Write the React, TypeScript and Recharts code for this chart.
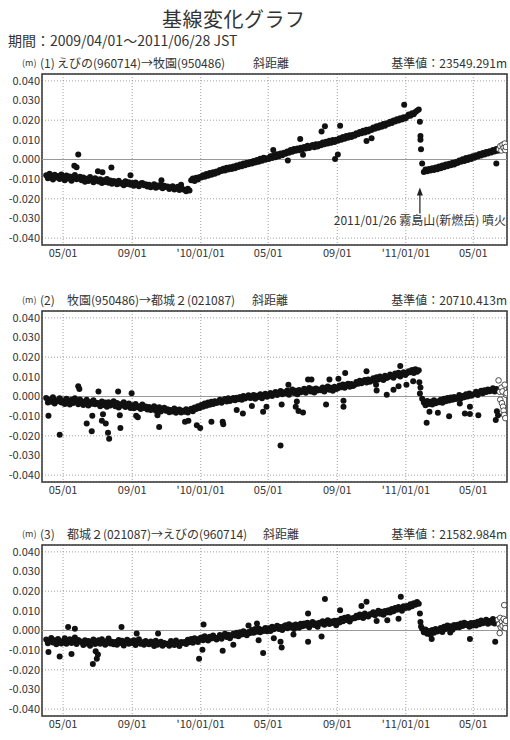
import {
  ScatterChart,
  Scatter,
  XAxis,
  YAxis,
  CartesianGrid,
  ReferenceLine,
  ReferenceArea,
  ReferenceDot,
} from "recharts"

// day 0 = 2009/04/01, one value every 3 days, in mm
const STEP = 3

const xTicks = [30, 153, 275, 395, 518, 640, 760]
const xLabels = ["05/01", "09/01", "'10/01/01", "05/01", "09/01", "'11/01/01", "05/01"]
const yTicks = [-40, -30, -20, -10, 0, 10, 20, 30, 40]

// (1) えびの -> 牧園
const line1 = [
  -8.0, -9.6, -7.3, -8.9, -10.2, -7.8, -9.1, -8.4, -9.9, -7.6, // 2009-04
  -9.0, -10.5, -8.1, -9.7, -8.6, -10.8, -9.3, -7.9, -10.1, -9.5, -8.8,
  -10.6, -9.2, -11.3, -9.8, -10.9, -8.9, -10.4, -11.6, -9.5, -10.2,
  -11.2, -10.1, -12.0, -10.6, -11.5, -9.9, -11.8, -10.7, -12.3, -10.9,
  -11.3, -12.6, -10.8, -12.2, -11.9, -13.1, -11.1, -12.5, -11.6, -12.9,
  -12.0, -13.3, -11.7, -12.8, -13.6, -12.2, -11.9, -13.1, -12.6, -13.8,
  -12.9, -14.1, -13.5, -12.6, -14.4, -13.2, -13.9, -12.8, -14.6, -13.4, -14.0,
  -13.8, -15.0, -14.4, -13.6, -15.3, -14.7, -13.9, -15.5, -14.2, -15.1,
  -15.4, -16.2, -14.9, -15.8, -10.6, -9.7, -11.0, -9.3, -10.2, -8.9,
  -9.1, -8.0, -8.8, -7.4, -8.3, -6.9, -7.7, -6.5, -7.3, -6.1, // 2010-01
  -6.6, -5.3, -5.9, -4.7, -5.6, -4.2, -5.1, -3.9, -4.8, -3.6,
  -4.4, -3.1, -3.8, -2.6, -3.4, -2.0, -2.9, -1.6, -2.4, -1.3,
  -2.0, -0.7, -1.5, -0.2, -1.1, 0.4, -0.6, 0.9, -0.1, 0.6,
  0.3, 1.6, 0.8, 2.1, 1.2, 2.7, 1.6, 3.0, 2.2, 3.4,
  2.9, 4.1, 3.4, 4.8, 3.9, 5.3, 4.4, 5.6, 4.7, 6.0,
  5.2, 6.3, 5.6, 7.0, 5.9, 6.8, 7.4, 6.2, 7.7, 6.6, 7.9,
  7.3, 8.6, 7.8, 9.0, 8.2, 9.5, 8.5, 9.9, 8.9, 10.1,
  9.6, 10.8, 10.1, 11.4, 10.6, 11.9, 11.1, 12.3, 11.5, 12.6,
  12.1, 13.4, 12.8, 14.0, 13.3, 14.6, 13.8, 15.1, 14.2, 15.4,
  15.0, 16.3, 15.6, 16.9, 16.2, 17.4, 16.7, 18.0, 17.2, 18.4,
  18.0, 19.2, 18.6, 19.9, 19.3, 20.5, 19.8, 21.0, 20.3, 21.5, 20.9,
  21.8, 22.9, 22.3, 23.5, 23.0, 24.2, 24.8, 25.4, 12.0, -2.0, // 2011-01
  -6.3, -5.1, -6.0, -4.8, -5.6, -4.4, -5.3, -4.1, -4.9,
  -3.6, -4.4, -3.0, -3.9, -2.6, -3.4, -2.1, -2.9, -1.7, -2.5, -1.3,
  -1.8, -0.5, -1.2, 0.1, -0.7, 0.7, -0.2, 1.2, 0.3, 1.6,
  0.9, 2.1, 1.5, 2.8, 2.0, 3.3, 2.5, 3.8, 3.0, 4.2,
  3.6, 4.8, 4.1, 5.3, 4.5,
]
const extra1 = [
  [50, -3.2], [54, -4.0], [57, 2.5], [92, -6.0], [100, -6.5], [116, -4.1],
  [150, -8.0], [205, -10.5], [240, -12.8], [404, 4.8], [430, -0.5],
  [452, 10.4], [457, 2.4], [490, 14.3], [496, 16.9], [514, 0.3], [519, 2.6],
  [523, 17.2], [570, 9.4], [579, 10.8], [637, 27.8],
  [665, 19.2], [666, 10.1], [667, 5.2], [801, -2.0],
]
const open1 = [
  [806, 5.2], [808, 6.8], [810, 4.6], [812, 7.5], [814, 5.9], [816, 8.1], [817, 4.8], [818, 6.4],
]

// (2) 牧園 -> 都城２
const line2 = [
  -0.8, -3.1, -1.6, -2.7, -0.4, -3.5, -1.9, -2.4, -0.9, -3.0, // 2009-04
  -2.0, -3.8, -1.2, -2.9, -4.1, -1.7, -3.3, -0.9, -2.6, -3.9, -1.5,
  -2.4, -4.3, -3.0, -1.6, -4.6, -2.8, -3.7, -1.9, -4.0, -3.2,
  -3.5, -5.0, -2.6, -4.3, -3.1, -5.2, -2.9, -4.6, -3.8, -2.4,
  -4.9, -3.3, -5.6, -3.9, -4.6, -2.9, -5.3, -4.1, -3.6, -5.8,
  -4.4, -6.0, -3.8, -5.5, -4.9, -6.4, -4.1, -5.8, -5.1, -6.6,
  -5.3, -6.9, -5.8, -4.9, -7.2, -6.1, -5.5, -7.6, -6.4, -5.7, -7.3,
  -6.5, -8.0, -6.9, -7.6, -6.1, -8.3, -7.1, -6.6, -8.1, -7.3,
  -7.8, -6.5, -8.2, -7.0, -6.2, -7.5, -5.6, -6.4, -4.9, -5.8,
  -4.3, -5.2, -3.6, -4.7, -3.1, -4.2, -2.7, -3.8, -2.4, -3.3, // 2010-01
  -2.9, -1.7, -3.2, -2.1, -1.3, -2.6, -0.9, -2.3, -1.5, -0.7,
  -1.9, -0.6, -1.4, -0.2, -1.7, 0.3, -1.0, -0.3, 0.6, -0.8,
  -0.5, 0.8, -1.2, 0.4, -0.3, 1.2, -0.9, 0.6, 1.4, -0.1,
  0.5, 1.8, 0.2, 1.4, 2.3, 0.7, 1.9, 2.8, 1.1, 2.2,
  1.6, 3.0, 0.9, 2.4, 3.5, 1.8, 2.9, 1.2, 3.3, 2.1,
  2.7, 3.9, 1.9, 3.4, 4.3, 2.5, 3.7, 2.0, 4.1, 3.0, 3.6,
  3.2, 4.6, 2.6, 4.0, 5.1, 3.4, 4.4, 2.9, 4.9, 3.8,
  4.2, 5.6, 4.7, 6.1, 4.4, 5.8, 6.5, 5.0, 6.3, 5.4,
  6.0, 7.4, 6.5, 8.0, 6.8, 7.7, 8.4, 7.1, 8.6, 7.5,
  8.1, 9.3, 7.9, 9.8, 8.6, 10.2, 9.0, 8.4, 10.5, 9.4,
  9.9, 11.2, 10.4, 9.5, 11.7, 10.8, 12.1, 10.2, 11.5, 12.4, 11.0,
  11.8, 12.9, 12.3, 13.5, 11.9, 13.9, 12.6, 13.3, 4.6, -1.2, // 2011-01
  -3.1, -4.4, -2.3, -3.8, -2.7, -4.1, -1.9, -3.4, -2.5,
  -2.9, -1.6, -3.2, -1.1, -2.4, -0.8, -2.0, -0.5, -1.7, -0.2, -1.3,
  -0.6, 0.7, -1.0, 0.3, -0.4, 1.1, 0.0, 1.5, 0.4, 0.9,
  1.3, 2.4, 0.8, 2.0, 2.9, 1.6, 3.2, 2.3, 3.6, 2.7,
  3.1, 4.2, 2.6, 3.8, 3.4,
]
const extra2 = [
  [4, -9.8], [24, -19.4], [57, 5.2], [59, 3.8], [72, -13.7], [81, -17.7], [82, -9.8],
  [93, 2.6], [99, -12.4], [101, -9.0], [106, -13.7], [110, -18.4], [112, -21.5],
  [128, 2.6], [131, -9.5], [132, -16.0], [152, 1.7], [160, -9.8], [163, -10.6],
  [198, -9.5], [201, -15.5], [247, -12.9], [253, -12.4], [268, -14.6], [274, -16.0],
  [294, -12.9], [314, -12.9], [315, -14.1], [339, -6.9], [350, -8.6],
  [366, -4.8], [386, -7.7], [392, -5.2], [417, -24.9], [419, -4.1], [431, 6.0],
  [444, -5.2], [446, -2.6], [449, -7.4], [457, -8.1], [466, 8.6], [472, 8.6],
  [498, -4.1], [504, 8.6], [520, 9.0], [529, -2.2], [529, -5.2], [532, 12.0],
  [570, 12.9], [587, 6.0], [588, 3.1], [606, 0.9], [618, 3.4], [627, 5.2],
  [630, 15.5], [641, 6.0], [653, 7.7],
  [664, 7.2], [665, 1.5],
  [677, -13.4], [682, -7.7], [697, -8.3], [717, -10.0], [736, -3.6], [745, -8.6],
  [754, -8.9], [754, -5.2], [769, -9.5], [800, -12.0], [802, -7.5], [804, -9.5],
]
const open2 = [
  [805, 8.2], [807, 2.4], [808, -1.6], [810, 4.5], [811, -3.4], [812, 2.6], [813, -5.2],
  [814, -7.2], [815, -9.4], [816, 6.0], [817, -11.0], [818, 0.9], [819, 1.7],
]

// (3) 都城２ -> えびの
const line3 = [
  -4.6, -6.5, -5.2, -3.8, -6.1, -5.0, -7.0, -4.3, -5.8, -6.6, // 2009-04
  -5.4, -3.9, -6.7, -5.1, -4.4, -6.3, -5.7, -3.6, -6.9, -4.8, -5.5,
  -6.0, -7.4, -4.9, -6.6, -5.3, -7.8, -5.6, -4.6, -6.9, -6.2,
  -5.0, -6.8, -4.5, -6.1, -7.3, -5.4, -4.1, -6.6, -5.7, -7.0,
  -5.9, -7.3, -4.8, -6.4, -5.2, -7.6, -6.1, -4.7, -6.8, -5.5,
  -6.3, -5.0, -7.4, -5.8, -4.5, -6.7, -6.0, -7.2, -5.3, -6.5,
  -7.0, -5.6, -6.6, -7.9, -5.2, -7.3, -6.2, -5.7, -7.7, -6.4, -6.9,
  -6.8, -7.7, -5.4, -6.5, -7.4, -5.1, -6.9, -7.9, -5.8, -6.3,
  -5.9, -6.9, -4.7, -6.0, -4.3, -6.2, -3.9, -5.2, -5.8, -4.1,
  -3.6, -4.9, -2.9, -4.4, -5.1, -3.2, -4.1, -2.6, -3.8, -4.6, // 2010-01
  -3.5, -2.3, -4.2, -2.8, -1.7, -3.3, -2.1, -3.9, -2.5, -1.6,
  -2.6, -1.2, -2.9, -0.9, -2.0, -0.4, -1.6, -2.4, -0.7, -1.3,
  0.2, -1.1, 0.7, -0.6, 1.0, -0.9, 0.4, -0.2, 1.3, -0.4,
  1.2, -0.3, 1.9, 0.6, 1.5, 2.4, 0.8, 1.8, 0.2, 2.1,
  2.7, 1.1, 3.2, 1.7, 2.5, 0.8, 3.0, 2.0, 1.4, 3.4,
  2.2, 3.6, 2.6, 4.0, 1.7, 3.2, 4.3, 2.8, 3.5, 1.9, 3.9,
  3.5, 4.7, 2.9, 4.1, 5.2, 3.3, 4.6, 3.8, 5.0, 2.7,
  4.9, 4.1, 6.0, 4.7, 6.5, 5.3, 6.9, 4.6, 5.8, 6.3,
  6.2, 7.5, 6.7, 8.2, 7.0, 6.4, 8.6, 7.6, 7.1, 8.3,
  8.3, 9.3, 7.8, 8.9, 10.0, 8.5, 9.6, 8.0, 9.9, 9.1,
  10.3, 9.1, 10.9, 9.8, 11.5, 10.5, 12.0, 11.2, 10.0, 12.3, 11.4,
  12.5, 11.6, 13.3, 12.4, 13.9, 13.1, 14.5, 13.6, 4.3, 0.9, // 2011-01
  -0.9, 0.5, -1.6, -0.3, -2.1, 0.2, -1.2, 0.8, -0.5,
  0.0, 1.3, -0.7, 1.9, 0.7, 2.5, 1.2, 2.2, 0.4, 2.8, 1.6,
  2.9, 1.7, 3.5, 2.3, 4.0, 2.8, 3.3, 1.9, 3.8, 2.6,
  3.9, 2.6, 4.5, 3.2, 5.1, 3.7, 4.4, 5.5, 3.4, 4.8,
  4.1, 5.8, 3.6, 4.9, 5.4,
]
const extra3 = [
  [4, -11.0], [24, -13.2], [39, 1.8], [45, -12.0], [51, 0.9], [83, -17.0], [88, -10.5],
  [90, -14.4], [92, -12.2], [134, 1.8], [161, -1.5], [199, -1.5], [272, -14.4],
  [278, -9.8], [280, 3.1], [314, -10.3], [333, -7.2], [360, 2.6], [375, 3.6],
  [378, -5.0], [386, -11.5], [405, -4.0], [417, -5.7], [419, -8.6], [440, -2.0],
  [466, 8.6], [466, -5.7], [490, -3.1], [496, 16.0], [523, 10.3], [561, 12.5],
  [570, 14.6], [588, 4.8], [607, 5.2], [627, 6.0], [631, 17.2],
  [665, 8.6], [667, 2.0], [686, -4.3], [719, -1.0], [754, -4.3], [799, -5.7],
]
const open3 = [
  [804, 5.5], [806, 3.2], [807, -1.3], [808, 6.4], [809, 1.6], [811, 4.6], [812, 2.4],
  [814, 5.9], [815, 12.9], [816, 3.6], [817, 1.2], [818, 4.9],
]

const panels = [
  {
    no: "(1)",
    route: "えびの(960714)→牧園(950486)",
    base: "23549.291m",
    routeX: 57,
    distX: 253,
    line: line1,
    extra: extra1,
    open: open1,
  },
  {
    no: "(2)",
    route: "牧園(950486)→都城２(021087)",
    base: "20710.413m",
    routeX: 67,
    distX: 252,
    line: line2,
    extra: extra2,
    open: open2,
  },
  {
    no: "(3)",
    route: "都城２(021087)→えびの(960714)",
    base: "21582.984m",
    routeX: 67,
    distX: 263,
    line: line3,
    extra: extra3,
    open: open3,
  },
]

const FONT = "'Noto Sans CJK JP', 'Noto Sans', sans-serif"
const TXT = "#333"

const toPts = (vals: number[]) => vals.map((v, i) => ({ d: i * STEP, v }))
const toPairs = (arr: number[][]) => arr.map(([d, v]) => ({ d, v }))

const Dot = (p: any) => <circle cx={p.cx} cy={p.cy} r={3} fill="#111" />
const OpenDot = (p: any) => (
  <circle cx={p.cx} cy={p.cy} r={2.8} fill="#fff" stroke="#222" strokeWidth={0.8} />
)

const EruptionMark = (p: any) => (
  <g>
    <line x1={p.cx} y1={p.cy + 3} x2={p.cx} y2={p.cy + 26} stroke="#222" strokeWidth={1.2} />
    <path d={`M${p.cx - 3},${p.cy + 8} L${p.cx},${p.cy} L${p.cx + 3},${p.cy + 8} Z`} fill="#222" />
    <text x={p.cx} y={p.cy + 38} textAnchor="middle" fontSize={12} fill={TXT} fontFamily={FONT}>
      2011/01/26 霧島山(新燃岳) 噴火
    </text>
  </g>
)

const X_DOMAIN: [number, number] = [-7.5, 820]
const Y_DOMAIN: [number, number] = [-43.5, 43.5]

const Panel = ({ p, top, idx }: { p: (typeof panels)[number]; top: number; idx: number }) => {
  return (
    <>
      {/* header line */}
      <div style={{ position: "absolute", top: top - 5, left: 0, width: 510, height: 16, fontFamily: FONT, color: TXT, fontSize: 12, lineHeight: "16px", whiteSpace: "nowrap" }}>
        <span style={{ position: "absolute", left: 22, fontSize: 9 }}>(m)</span>
        <span style={{ position: "absolute", left: 40 }}>{p.no}</span>
        <span style={{ position: "absolute", left: p.routeX }}>{p.route}</span>
        <span style={{ position: "absolute", left: p.distX }}>斜距離</span>
        <span style={{ position: "absolute", right: 3 }}>基準値：{p.base}</span>
      </div>
      <div style={{ position: "absolute", top: top, left: 0 }}>
        <ScatterChart width={510} height={205} margin={{ top: 14, right: 3, bottom: 0, left: 0 }}>
          <CartesianGrid stroke="#888" strokeDasharray="1 2" strokeWidth={0.8} />
          <XAxis
            type="number"
            dataKey="d"
            domain={X_DOMAIN}
            ticks={xTicks}
            allowDataOverflow
            tickFormatter={(v: number) => xLabels[xTicks.indexOf(v)]}
            axisLine={false}
            tickLine={false}
            tickSize={4}
            tickMargin={0}
            height={20}
            tick={{ fontSize: 11, fill: TXT, fontFamily: FONT }}
          />
          <YAxis
            type="number"
            dataKey="v"
            domain={Y_DOMAIN}
            ticks={yTicks}
            allowDataOverflow
            tickFormatter={(v: number) => (v / 1000).toFixed(3)}
            axisLine={false}
            tickLine={false}
            tickSize={2}
            tickMargin={0}
            width={42}
            tick={{ fontSize: 11, fill: TXT, fontFamily: FONT }}
          />
          <ReferenceLine y={0} stroke="#999" strokeWidth={1} />
          <ReferenceArea
            x1={X_DOMAIN[0]}
            x2={X_DOMAIN[1]}
            y1={Y_DOMAIN[0]}
            y2={Y_DOMAIN[1]}
            fill="none"
            stroke="#333"
            strokeWidth={1.5}
          />
          <Scatter data={toPts(p.line)} shape={Dot} isAnimationActive={false} />
          <Scatter data={toPairs(p.extra)} shape={Dot} isAnimationActive={false} />
          <Scatter data={toPairs(p.open)} shape={OpenDot} isAnimationActive={false} />
          {idx === 0 && <ReferenceDot x={665} y={-14.2} shape={EruptionMark} />}
        </ScatterChart>
      </div>
    </>
  )
}

export default function App() {
  return (
    <div style={{ position: "absolute", left: 0, top: 0, width: 510, height: 740, background: "#fff" }}>
      <div style={{ position: "absolute", top: 4, left: 162, fontFamily: FONT, fontSize: 20, color: TXT, letterSpacing: 0.5, whiteSpace: "nowrap" }}>
        基線変化グラフ
      </div>
      <div style={{ position: "absolute", top: 30, left: 8, fontFamily: FONT, fontSize: 14, color: TXT, whiteSpace: "nowrap" }}>
        期間：2009/04/01～2011/06/28 JST
      </div>
      {panels.map((p, i) => (
        <Panel key={i} p={p} idx={i} top={[60, 297, 531][i]} />
      ))}
    </div>
  )
}
